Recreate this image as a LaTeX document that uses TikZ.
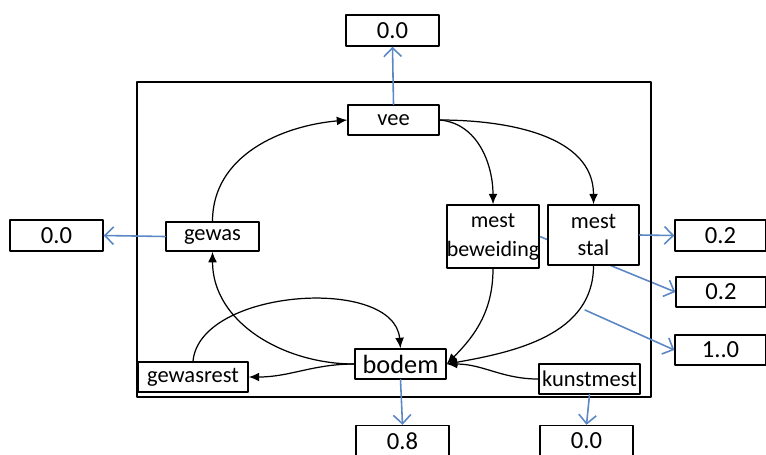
\documentclass[tikz,border=0pt]{standalone}
\usepackage{fontspec}
\setmainfont{Carlito}
\usetikzlibrary{arrows.meta,backgrounds}
\definecolor{lossblue}{HTML}{5B87C5}
\tikzset{
  every picture/.style={line join=round, line cap=round},
  box/.style={draw, line width=0.8pt, fill=white, inner sep=0pt, minimum width=1.82cm, minimum height=0.6cm, font=\fontsize{12.8}{15.5}\selectfont, align=center},
  numbox/.style={box, minimum width=1.86cm, minimum height=0.62cm, font=\fontsize{14}{15}\selectfont},
  flow/.style={line width=0.7pt, -{Latex[length=6pt,width=5pt]}},
  loss/.style={lossblue, line width=0.9pt, -{Straight Barb[length=5pt,width=10pt]}},
}

\begin{document}
\begin{tikzpicture}[x=0.02cm,y=-0.02cm]
\useasboundingbox (0,0) rectangle (766,454);
\draw[line width=1pt] (137,82) rectangle (651,397);
\node[numbox] (top0) at (392.5,30.5) {0.0};
\node[box] (vee) at (393.5,120) {vee};
\node[box, minimum width=1.86cm, minimum height=0.58cm] (gewas) at (212.5,236.5) {gewas};
\node[numbox] (left0) at (56.5,235.5) {0.0};
\node[box, minimum width=1.8cm, minimum height=1.26cm, font=\fontsize{12.5}{16.5}\selectfont] (beweiding) at (493,236.5) {mest\\beweiding};
\node[box, minimum width=1.82cm, minimum height=1.2cm] (stal) at (593.5,235) {mest\\stal};
\node[numbox, minimum width=1.82cm] (r1) at (720.5,235.5) {0.2};
\node[numbox, minimum width=1.8cm, minimum height=0.6cm] (r2) at (721,292) {0.2};
\node[numbox, minimum width=1.82cm, minimum height=0.6cm] (r3) at (720.5,350) {1..0};
\node[box, font=\fontsize{15}{16}\selectfont] (bodem) at (400.5,364) {bodem};
\node[box, minimum width=2.2cm] (gewasrest) at (193,377) {gewasrest};
\node[box, minimum width=2.02cm] (kunstmest) at (589.5,379) {kunstmest};
\node[numbox] (b1) at (402.5,441) {0.8};
\node[numbox] (b2) at (586.5,441) {0.0};
\coordinate (leak) at (585,310);
\draw[flow] (gewas.north) to[out=90,in=185] (vee.west);
\draw[flow] (vee.east) to[out=-5,in=90] (beweiding.north);
\draw[flow] (vee.east) to[out=0,in=90] (stal.north);
\draw[flow] (bodem.west) to[out=180,in=-90] (gewas.south);
\draw[flow] (gewasrest.north) to[out=85,in=95,looseness=0.9] (bodem.north);
\draw[flow] (bodem.west) to[out=180,in=0] (gewasrest.east);
\draw[flow] (beweiding.south) to[out=-90,in=45] (bodem.east);
\draw[flow] (stal.south) to[out=-90,in=10] (bodem.east);
\draw[flow] (kunstmest.west) to[out=180,in=0] (bodem.east);
\draw[loss] (vee.north) -- (top0.south);
\draw[loss] (gewas.west) -- (left0.east);
\draw[loss] (stal.east) -- (r1.west);
\begin{pgfonlayer}{background}
\draw[loss] (beweiding.east) -- (r2.west);
\end{pgfonlayer}
\draw[loss] (leak) -- (r3.west);
\draw[loss] (bodem.south) -- (b1.north);
\draw[loss] (kunstmest.south) -- (b2.north);
\end{tikzpicture}
\end{document}
